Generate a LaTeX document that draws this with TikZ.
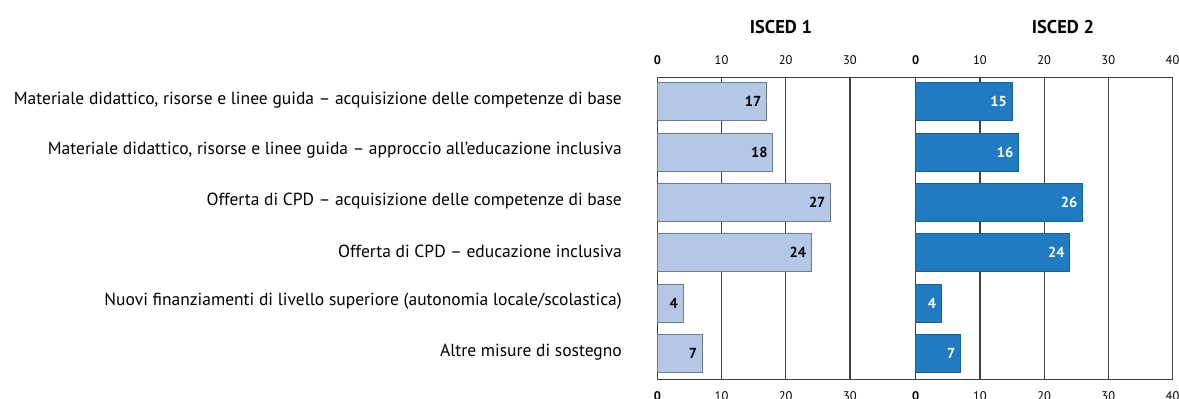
\documentclass[tikz,border=0pt]{standalone}
\usepackage{fontspec}
\setmainfont{PT Sans}
\definecolor{lightbar}{HTML}{B4C7E7}
\definecolor{lightedge}{HTML}{6F7B8C}
\definecolor{darkbar}{HTML}{1F7CC2}
\definecolor{darkedge}{HTML}{1A5E92}
\definecolor{gridc}{HTML}{404040}
\begin{document}
\begin{tikzpicture}[x=1pt,y=-1pt,
  gridline/.style={draw=gridc, line width=1.2pt},
  barA/.style={fill=lightbar, draw=lightedge, line width=0.9pt},
  barB/.style={fill=darkbar, draw=darkedge, line width=0.9pt},
  cat/.style={anchor=east, inner sep=0pt, font=\fontsize{17.5}{20}\selectfont},
  tick/.style={inner sep=0pt, font=\fontsize{12.5}{14}\selectfont},
  tickzero/.style={inner sep=0pt, font=\bfseries\fontsize{12.5}{14}\selectfont},
  valA/.style={anchor=east, inner sep=0pt, text=black, font=\bfseries\fontsize{14.5}{16}\selectfont},
  valB/.style={anchor=east, inner sep=0pt, text=white, font=\bfseries\fontsize{14.5}{16}\selectfont},
  title/.style={inner sep=0pt, font=\bfseries\fontsize{18.5}{20}\selectfont}]
\useasboundingbox (0,0) rectangle (1179,399);
\def\xa{657.3}\def\xb{915.7}\def\u{6.42}
\def\ytop{77.3}\def\ybot{379.3}
% titles
\node[title] (t1) at (781,26.7) {ISCED 1};
\node[title] (t2) at (1063,26.7) {ISCED 2};
% gridlines
\foreach \k in {1,2,3}{
  \draw[gridline] (\xa+\k*10*\u,\ytop) -- (\xa+\k*10*\u,\ybot);
  \draw[gridline] (\xb+\k*10*\u,\ytop) -- (\xb+\k*10*\u,\ybot);
}
% frame
\draw[gridline] (\xa,\ytop) -- (\xb+40*\u,\ytop);
\draw[gridline] (\xa,\ybot) -- (\xb+40*\u,\ybot);
\draw[gridline] (\xa,\ytop) -- (\xa,\ybot);
\draw[gridline] (\xb,\ytop) -- (\xb,\ybot);
\draw[gridline] (\xb+40*\u,\ytop) -- (\xb+40*\u,\ybot);
% tick labels
\foreach \s/\x in {a/\xa,b/\xb}{
  \node[tickzero] (z\s top) at (\x,60.5) {0};
  \node[tickzero] (z\s bot) at (\x,396) {0};
}
\foreach \k in {10,20,30}{
  \node[tick] (la\k top) at (\xa+\k*\u,60.5) {\k};
  \node[tick] (la\k bot) at (\xa+\k*\u,396) {\k};
}
\foreach \k in {10,20,30,40}{
  \node[tick] (lb\k top) at (\xb+\k*\u,60.5) {\k};
  \node[tick] (lb\k bot) at (\xb+\k*\u,396) {\k};
}
% bars
\foreach \i/\va/\vb/\txt in {
  1/17/15/{Materiale didattico, risorse e linee guida – acquisizione delle competenze di base},
  2/18/16/{Materiale didattico, risorse e linee guida – approccio all’educazione inclusiva},
  3/27/26/{Offerta di CPD – acquisizione delle competenze di base},
  4/24/24/{Offerta di CPD – educazione inclusiva},
  5/4/4/{Nuovi finanziamenti di livello superiore (autonomia locale/scolastica)},
  6/7/7/{Altre misure di sostegno}}{
  \pgfmathsetmacro{\top}{82.7+(\i-1)*50.33}
  \pgfmathsetmacro{\mid}{\top+19}
  \draw[barA] (\xa,\top) rectangle (\xa+\va*\u,\top+38);
  \draw[barB] (\xb,\top) rectangle (\xb+\vb*\u,\top+38);
  \node[valA] (va\i) at (\xa+\va*\u-5,\mid) {\va};
  \node[valB] (vb\i) at (\xb+\vb*\u-5,\mid) {\vb};
  \node[cat] (c\i) at (622,\mid-1.5) {\txt};
}
\end{tikzpicture}
\end{document}
